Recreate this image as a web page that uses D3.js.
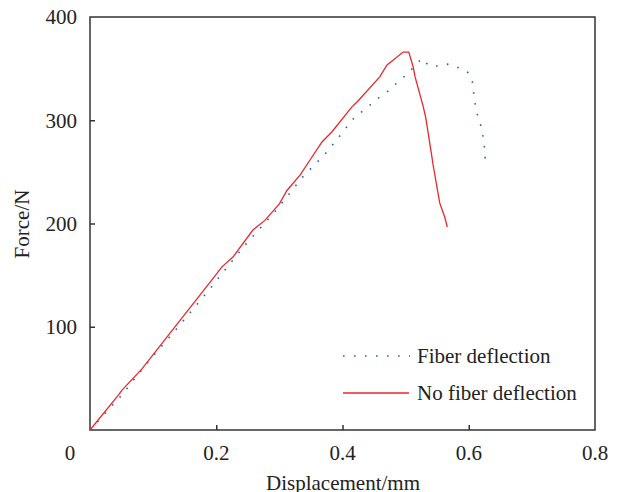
<!DOCTYPE html>
<html>
<head>
<meta charset="utf-8">
<script src="https://cdn.jsdelivr.net/npm/d3@7"></script>
<style>
  body { margin: 0; background: #fff; }
  text { font-family: "Liberation Serif", "Times New Roman", serif; fill: #222; }
</style>
</head>
<body>
<svg id="chart"></svg>
<script>
// Displacement (mm) / force (N) curves
const fiberX = [0, 0.049, 0.0935, 0.141, 0.187, 0.198, 0.244, 0.291, 0.337, 0.375, 0.418, 0.459, 0.474, 0.486, 0.501, 0.526, 0.537, 0.551, 0.569, 0.585, 0.600, 0.607, 0.608, 0.611, 0.615, 0.621, 0.623, 0.626, 0.626];
const fiberF = [0, 33, 67, 100.7, 134.6, 143, 178, 210, 245, 269, 302, 322.5, 329, 336, 344, 360, 352.5, 352.5, 354.5, 350.6, 345.8, 335, 323.5, 313, 302, 291.5, 281, 270, 259];

const noFiberX = [0, 0.044, 0.0507, 0.082, 0.190, 0.209, 0.2265, 0.258, 0.277, 0.300, 0.312, 0.333, 0.3485, 0.3675, 0.383, 0.415, 0.4245, 0.459, 0.4705, 0.48, 0.496, 0.505, 0.512, 0.515, 0.528, 0.532, 0.542, 0.543, 0.554, 0.562, 0.566];
const noFiberF = [0, 33, 38.7, 59, 143, 158, 167.5, 193.7, 203, 219, 232, 247, 261.5, 279, 288.6, 313, 318.6, 342, 353.5, 358, 366, 366, 351.6, 342, 313, 302, 263, 258.6, 220, 206, 196.6];

const xTicks = [0.2, 0.4, 0.6, 0.8];
const yTicks = [100, 200, 300, 400];
const seriesNames = ["Fiber deflection", "No fiber deflection"];

const W = 619, H = 492;
const mLeft = 90, mRight = 595, mTop = 17, mBottom = 430;
const fs = 21;

const svg = d3.select("#chart").attr("width", W).attr("height", H);

const x = d3.scaleLinear().domain([0, 0.8]).range([mLeft, mRight]);
const y = d3.scaleLinear().domain([0, 400]).range([mBottom, mTop]);

// frame
svg.append("rect")
  .attr("x", mLeft).attr("y", mTop)
  .attr("width", mRight - mLeft).attr("height", mBottom - mTop)
  .attr("fill", "none").attr("stroke", "#333").attr("stroke-width", 1.5);

// inward ticks
const xAxis = d3.axisBottom(x).tickValues(xTicks.slice(0, 3)).tickSizeInner(-5).tickSizeOuter(0).tickFormat("");
const xg = svg.append("g").attr("transform", `translate(0,${mBottom})`).call(xAxis);
const yAxis = d3.axisLeft(y).tickValues(yTicks.slice(0, 3)).tickSizeInner(-5).tickSizeOuter(0).tickFormat("");
const yg = svg.append("g").attr("transform", `translate(${mLeft},0)`).call(yAxis);
[xg, yg].forEach(g => {
  g.select(".domain").remove();
  g.selectAll("line").attr("stroke", "#333").attr("stroke-width", 1.5);
});

// tick labels
svg.append("g").selectAll("text").data(xTicks).join("text")
  .attr("x", d => x(d)).attr("y", 460)
  .attr("text-anchor", "middle").attr("font-size", fs)
  .text(d => d);
svg.append("text").attr("x", 70).attr("y", 460)
  .attr("text-anchor", "middle").attr("font-size", fs).text("0");
svg.append("g").selectAll("text").data(yTicks).join("text")
  .attr("x", 77).attr("y", d => y(d)).attr("dy", "0.35em")
  .attr("text-anchor", "end").attr("font-size", fs)
  .text(d => d);

// axis titles
svg.append("text").attr("x", 343).attr("y", 490)
  .attr("text-anchor", "middle").attr("font-size", fs).text("Displacement/mm");
svg.append("text").attr("transform", "translate(29,224) rotate(-90)")
  .attr("text-anchor", "middle").attr("font-size", fs).text("Force/N");

const line = d3.line().x(d => x(d[0])).y(d => y(d[1]));
const fiber = fiberX.map((v, i) => [v, fiberF[i]]);
const noFiber = noFiberX.map((v, i) => [v, noFiberF[i]]);

svg.append("path").datum(fiber).attr("d", line)
  .attr("fill", "none").attr("stroke", "#2e5fb5").attr("stroke-width", 1.6)
  .attr("stroke-dasharray", "1.6,9.4");
svg.append("path").datum(noFiber).attr("d", line)
  .attr("fill", "none").attr("stroke", "#e8272d").attr("stroke-width", 1.3);

// legend
const lg = svg.append("g").attr("transform", "translate(343,356)");
lg.append("line").attr("x1", 0).attr("x2", 67).attr("y1", 0).attr("y2", 0)
  .attr("stroke", "#2e5fb5").attr("stroke-width", 1.6).attr("stroke-dasharray", "1.6,9.4");
lg.append("line").attr("x1", 0).attr("x2", 66).attr("y1", 37).attr("y2", 37)
  .attr("stroke", "#e8272d").attr("stroke-width", 1.3);
lg.selectAll("text").data(seriesNames).join("text")
  .attr("x", 74).attr("y", (d, i) => i * 37).attr("dy", "0.35em")
  .attr("font-size", fs).text(d => d);
</script>
</body>
</html>
